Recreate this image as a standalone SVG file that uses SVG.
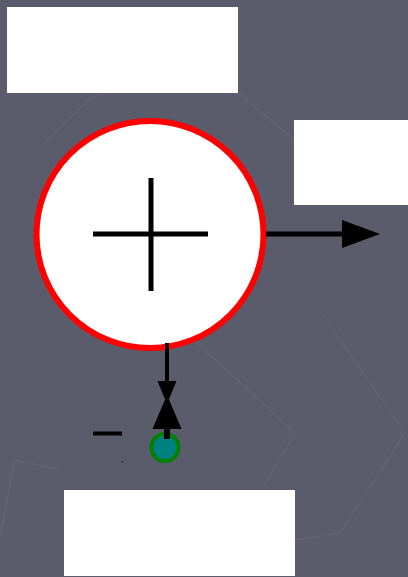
<svg xmlns="http://www.w3.org/2000/svg" width="408" height="577" viewBox="0 0 408 577">
<style>
.box{fill:#ffffff;stroke:none}
.wire{stroke:#000000;fill:none}
.deco{stroke:#606271;stroke-width:2;fill:none}
</style>
<defs>
<marker id="arrowR" viewBox="0 0 38 28" refX="0" refY="14" markerWidth="38" markerHeight="28" markerUnits="userSpaceOnUse" orient="auto">
<polygon points="0,0 38,14 0,28" fill="#000000"/>
</marker>
</defs>
<rect x="0" y="0" width="408" height="577" fill="#5a5c6b"/>
<g id="background-decoration">
<polyline class="deco" points="42,145 88,100 170,60 240,95 295,140"/>
<polyline class="deco" points="197,343 295,433 263,487"/>
<polyline class="deco" points="323,315 405,433 340,533 295,540"/>
<polyline class="deco" points="0,540 14,460 60,470"/>
</g>
<g id="box-top-left"><rect class="box" x="7" y="7" width="231" height="86"/></g>
<g id="box-right"><rect class="box" x="294" y="120" width="114" height="85"/></g>
<g id="box-bottom"><rect class="box" x="64" y="490" width="231" height="86"/></g>
<g id="summing-junction">
<circle cx="150" cy="234.5" r="113.5" fill="#ffffff" stroke="#ff0000" stroke-width="6"/>
<line class="wire" x1="93" y1="234" x2="208" y2="234" stroke-width="5"/>
<line class="wire" x1="151" y1="178" x2="151" y2="291" stroke-width="5"/>
</g>
<g id="input-node">
<circle cx="165" cy="447.5" r="13.5" fill="#008080" stroke="#008000" stroke-width="4"/>
</g>
<g id="minus-sign">
<line class="wire" x1="93" y1="433.5" x2="122" y2="433.5" stroke-width="4"/>
<rect x="122" y="461" width="1" height="1.5" fill="#000000"/>
</g>
<g id="connectors">
<line class="wire" x1="266" y1="234" x2="342" y2="234" stroke-width="5" marker-end="url(#arrowR)"/>
<line class="wire" x1="167" y1="343" x2="167" y2="382" stroke-width="4"/>
<polygon points="157.5,381 176.5,381 167,404" fill="#000000"/>
<polygon points="152.5,429 181.5,429 167,395" fill="#000000"/>
<line class="wire" x1="167" y1="428" x2="167" y2="439" stroke-width="6"/>
</g>
</svg>
